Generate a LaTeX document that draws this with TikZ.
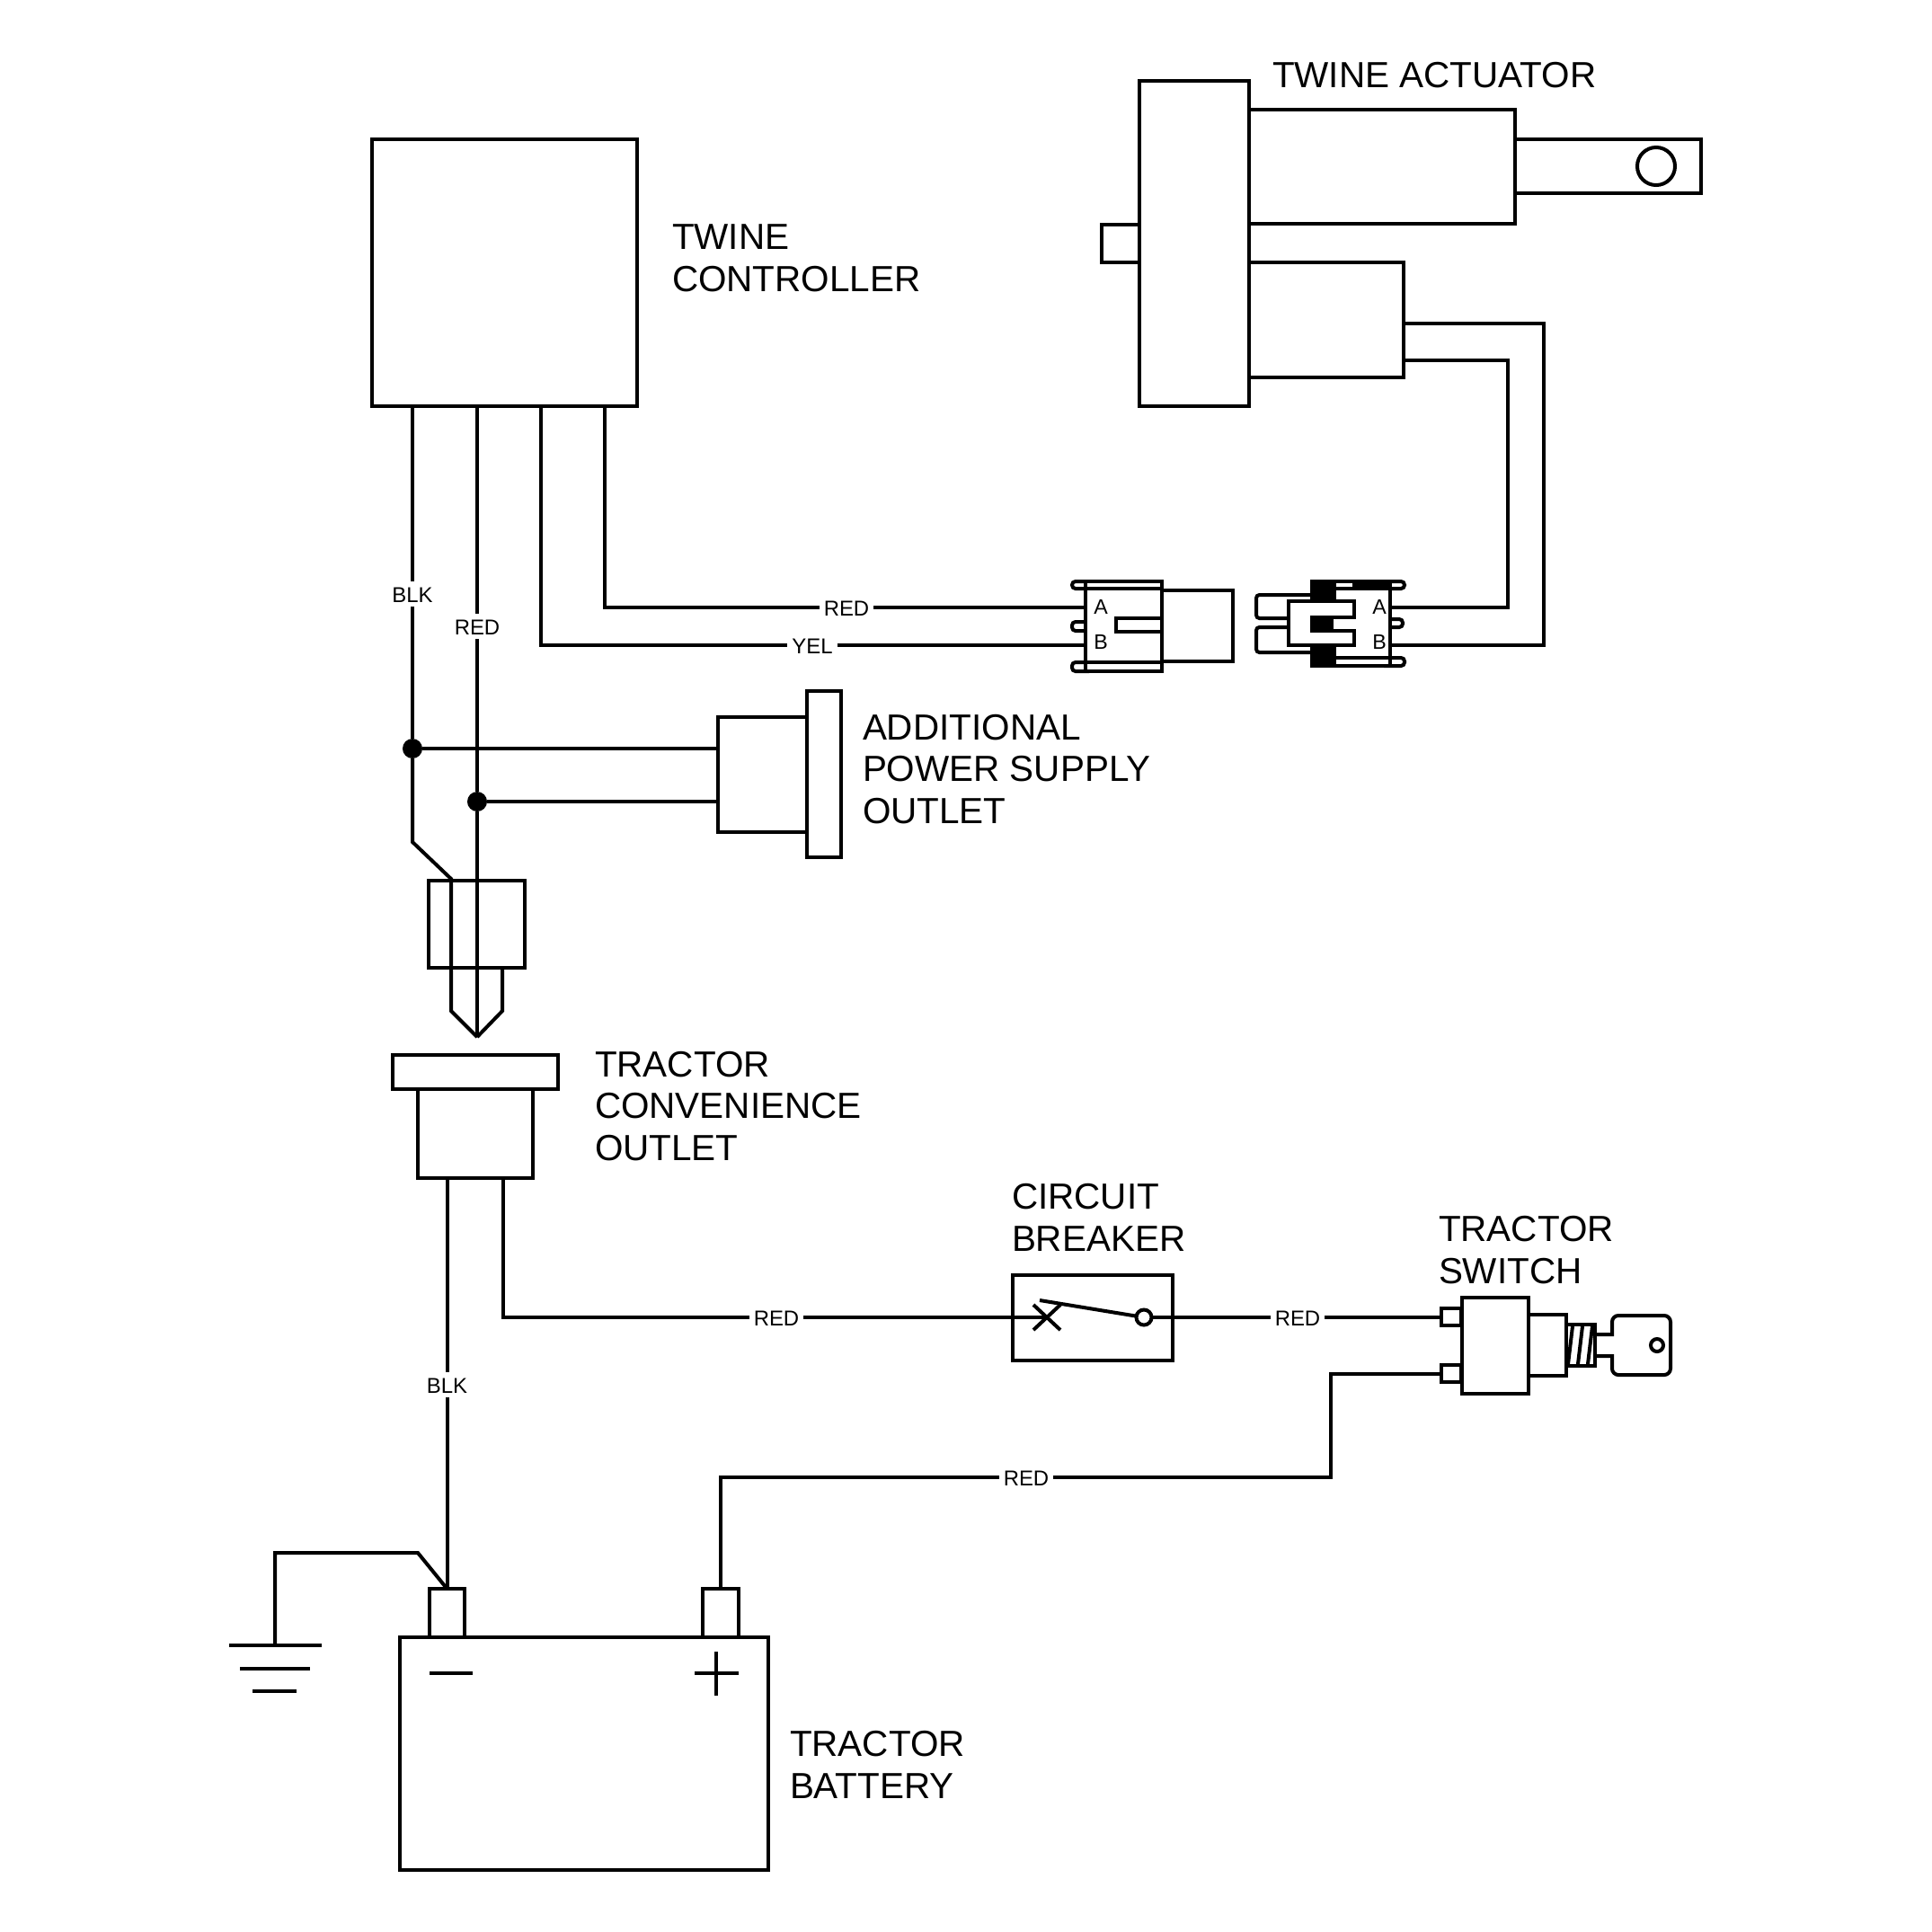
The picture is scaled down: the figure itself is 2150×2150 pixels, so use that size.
\documentclass[tikz,border=0pt]{standalone}
\usepackage{fontspec}
\setmainfont{Liberation Sans}
\usetikzlibrary{fit}
\tikzset{
  x=0.01cm,y=-0.01cm,
  every path/.style={line width=0.04cm,line cap=butt,line join=miter},
  box/.style={draw,fill=white,inner sep=0pt,outer sep=0pt,minimum size=0pt,line join=miter},
  title/.style={inner sep=0pt,outer sep=0pt,anchor=base west,align=left,font=\fontsize{11.5pt}{13.1pt}\selectfont},
  tag/.style={inner sep=0.05cm,outer sep=0pt,text height=0.18cm,text depth=0pt,font=\fontsize{6.8pt}{8pt}\selectfont},
  pin/.style={inner sep=0pt,outer sep=0pt,text height=0.17cm,text depth=0pt,font=\fontsize{6.6pt}{8pt}\selectfont},
  dot/.style={circle,fill=black,inner sep=0pt,outer sep=0pt,minimum size=0.22cm},
  ring/.style={circle,draw,inner sep=0pt,outer sep=0pt},
  ear/.style={draw,fill=white,rounded corners=1.1pt},
}
\begin{document}
\begin{tikzpicture}
\useasboundingbox (0,0) rectangle (2150,2150);
\fill[white] (0,0) rectangle (2150,2150);

% text
\node[title] (tActuator) at (1416,97) {TWINE ACTUATOR};
\node[title] (tCtrl) at (748,324) {TWINE\\CONTROLLER};
\node[title] (tAdd) at (960,916) {ADDITIONAL\\POWER SUPPLY\\OUTLET};
\node[title] (tConv) at (662,1291) {TRACTOR\\CONVENIENCE\\OUTLET};
\node[title] (tCB) at (1126,1392) {CIRCUIT\\BREAKER};
\node[title] (tSw) at (1601,1428) {TRACTOR\\SWITCH};
\node[title] (tBat) at (879,2001) {TRACTOR\\BATTERY};

% twine controller
\node[box,fit={(414,155)(709,452)}] (ctrl) {};

% actuator
\node[box,fit={(1226,250)(1268,292)}] (stub) {};
\node[box,fit={(1686,155)(1893,215)}] (rod) {};
\node[box,fit={(1390,122)(1686,249)}] (cyl) {};
\node[box,fit={(1390,292)(1562,420)}] (motor) {};
\node[box,fit={(1268,90)(1390,452)}] (plate) {};
\node[ring,minimum size=0.42cm] (hole) at (1843,185) {};

% connector, controller side
\node[box,fit={(1293,657)(1372,736)}] (plugBack) {};
\draw[ear] (1212,647) -- (1193,647) -- (1193,655) -- (1212,655);
\draw[ear] (1212,692) -- (1193,692) -- (1193,702) -- (1212,702);
\draw[ear] (1212,737) -- (1193,737) -- (1193,747) -- (1212,747);
\node[box,fit={(1208,647)(1293,747)}] (connL) {};
\draw (connL.west |- 0,655) -- (connL.east |- 0,655);
\draw (connL.west |- 0,737) -- (connL.east |- 0,737);
\draw (connL.east |- 0,688) -- (1242,688) -- (1242,703) -- (connL.east |- 0,703);
\node[pin] (pinLA) at (1225,675) {A};
\node[pin] (pinLB) at (1225,714) {B};

% connector, actuator side
\draw[box,rounded corners=1pt] (1460,662) -- (1398,662) -- (1398,688) -- (1440,688);
\draw[box,rounded corners=1pt] (1460,726) -- (1398,726) -- (1398,698) -- (1440,698);
\draw[ear] (1540,647) -- (1563,647) -- (1563,655) -- (1540,655);
\draw[ear] (1540,689) -- (1561,689) -- (1561,698) -- (1540,698);
\draw[ear] (1540,732) -- (1563,732) -- (1563,741) -- (1540,741);
\node[box,fit={(1460,647)(1547,741)}] (connR) {};
\draw (1487,655) -- (connR.east |- 0,655);
\draw (1487,732) -- (connR.east |- 0,732);
\fill (1460,647) rectangle (1487,668);
\fill (1460,719) rectangle (1487,741);
\fill (1505,647) rectangle (1548,655);
\fill (1507,732) rectangle (1548,734);
\fill (1507,739) rectangle (1548,741);
\draw[fill=white] (1434,669) -- (1507,669) -- (1507,687) -- (1460,687) -- (1460,702) -- (1507,702) -- (1507,718) -- (1434,718) -- cycle;
\fill (1460,687) rectangle (1484,702);
\node[pin] (pinRA) at (1535,675) {A};
\node[pin] (pinRB) at (1535,714) {B};

% outlets
\node[box,fit={(799,798)(898,926)}] (addBody) {};
\node[box,fit={(898,769)(936,954)}] (addPlate) {};
\node[box,fit={(477,980)(584,1077)}] (plug) {};
\node[box,fit={(437,1174)(621,1212)}] (convPlate) {};
\node[box,fit={(465,1212)(593,1311)}] (conv) {};

% battery
\node[box,fit={(478,1768)(517,1822)}] (neg) {};
\node[box,fit={(782,1768)(822,1822)}] (pos) {};
\node[box,fit={(445,1822)(855,2081)}] (bat) {};
\draw (773,1862) -- (822,1862);
\draw (797,1838) -- (797,1887);
\draw (478,1862) -- (526,1862);

% wire labels
\node[tag] (lBlkA) at (459,661) {BLK};
\node[tag] (lRedA) at (531,697) {RED};
\node[tag] (lRedB) at (942,676) {RED};
\node[tag] (lYel) at (904,718) {YEL};
\node[tag] (lBlkB) at (neg.north |- 0,1541) {BLK};
\node[tag] (lRedC) at (864,1466) {RED};
\node[tag] (lRedD) at (1444,1466) {RED};
\node[tag] (lRedE) at (1142,1644) {RED};

% junctions
\node[dot] (jA) at (459,833) {};
\node[dot] (jB) at (531,892) {};

% controller wires
\draw (jA |- ctrl.south) -- (lBlkA) -- (jA);
\draw (jB |- ctrl.south) -- (lRedA) -- (jB);
\coordinate (cA) at (673,676);
\coordinate (cB) at (602,718);
\draw (cA |- ctrl.south) -- (cA) -- (lRedB) -- (connL.west |- cA);
\draw (cB |- ctrl.south) -- (cB) -- (lYel) -- (connL.west |- cB);
\draw (jA) -- (addBody.west |- jA);
\draw (jB) -- (addBody.west |- jB);

% plug pins
\coordinate (tip) at (531,1154);
\draw (jA) -- (459,937) -- (502,978) -- (502,1125) -- (tip);
\draw (jB) -- (tip);
\draw (plug.south -| 559,0) -- (559,1125) -- (tip);

% actuator wires
\coordinate (cC) at (1678,676);
\coordinate (cD) at (1718,718);
\draw (connR.east |- cC) -- (cC) -- (1678,401) -- (motor.east |- 0,401);
\draw (connR.east |- cD) -- (cD) -- (1718,360) -- (motor.east |- 0,360);

% circuit breaker
\node[box,fit={(1127,1419)(1305,1514)}] (cb) {};
\coordinate (cbX) at (1165,1466);
\node[ring,minimum size=0.17cm] (cbO) at (1273,1466) {};
\draw (1150,1452) -- (1180,1480);
\draw (1180,1452) -- (1150,1480);
\draw (1157,1447) -- (cbO);
\draw (cb.west |- cbX) -- (cbX);

% switch
\node[box,fit={(1604,1456)(1626,1475)}] (swT) {};
\node[box,fit={(1604,1519)(1626,1538)}] (swB) {};
\node[box,fit={(1627,1444)(1701,1551)}] (sw) {};
\node[box,fit={(1701,1463)(1743,1531)}] (swNeck) {};
\node[box,fit={(1743,1474)(1775,1520)}] (swThread) {};
\draw (1750,1476) -- (1745,1518);
\draw (1761,1476) -- (1756,1518);
\draw (1772,1476) -- (1767,1518);
\draw (swThread.east |- 0,1485) -- (1794,1485) [rounded corners=2pt] -- (1794,1464) -- (1859,1464) -- (1859,1530) -- (1794,1530) [sharp corners] -- (1794,1509) -- (swThread.east |- 0,1509);
\node[ring,minimum size=0.14cm] (keyHole) at (1844,1497) {};

% ground
\coordinate (gnd) at (306,1831);
\draw (255,1831) -- (358,1831);
\draw (267,1857) -- (345,1857);
\draw (281,1882) -- (330,1882);
\draw (neg.north) -- (465,1728) -- (306,1728) -- (gnd);

% lower wires
\draw (neg.north) -- (lBlkB) -- (neg.north |- conv.south);
\coordinate (cE) at (560,1466);
\draw (cE |- conv.south) -- (cE) -- (lRedC) -- (cb.west |- cE);
\draw (cbO) -- (lRedD) -- (swT.west |- lRedD);
\coordinate (cF) at (1481,1529);
\coordinate (cG) at (1481,1644);
\coordinate (cH) at (802,1644);
\draw (swB.west |- cF) -- (cF) -- (cG) -- (lRedE) -- (cH) -- (pos.north -| cH);
\end{tikzpicture}
\end{document}
